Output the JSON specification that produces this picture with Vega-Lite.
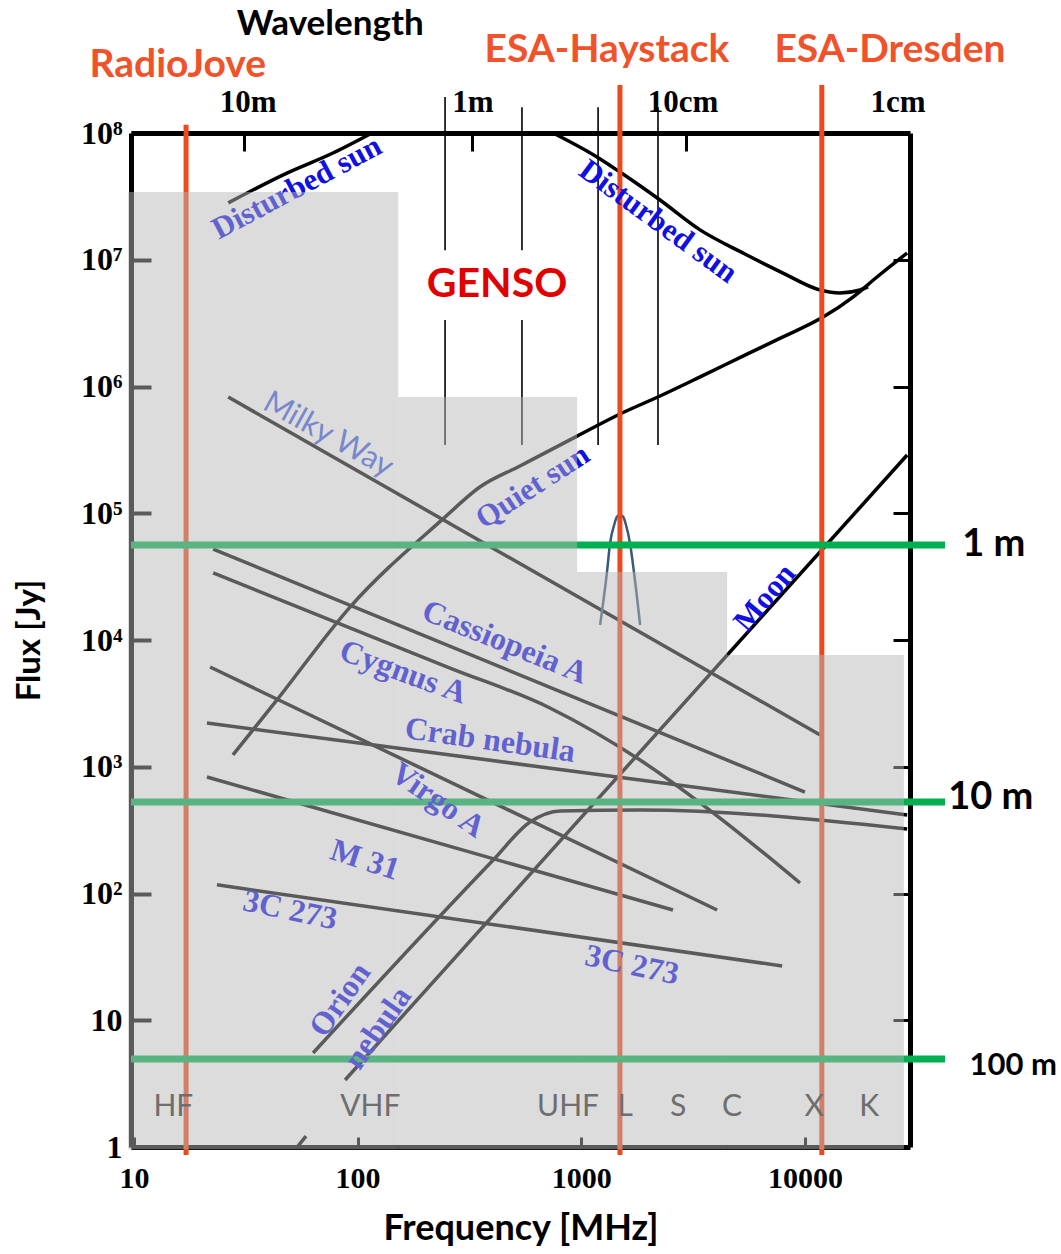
{
  "$schema": "https://vega.github.io/schema/vega-lite/v6.json",
  "width": 779,
  "height": 1014,
  "autosize": {"type": "none"},
  "padding": {"left": 131, "top": 133, "right": 151, "bottom": 107},
  "background": "white",
  "config": {"view": {"stroke": null}, "axis": {"grid": false, "labelFlush": false, "labelOverlap": false}},
  "datasets": {
    "curves": [
      {"series": "DS1", "f": 26.4, "s": 2.81e7}, {"series": "DS1", "f": 48.3, "s": 4.83e7}, {"series": "DS1", "f": 77.6, "s": 6.95e7}, {"series": "DS1", "f": 116, "s": 1e8},
      {"series": "DS2", "f": 748, "s": 1e8}, {"series": "DS2", "f": 1175, "s": 6.47e7}, {"series": "DS2", "f": 1489, "s": 4.92e7}, {"series": "DS2", "f": 2249, "s": 2.96e7}, {"series": "DS2", "f": 3396, "s": 1.72e7}, {"series": "DS2", "f": 5285, "s": 1.13e7}, {"series": "DS2", "f": 7980, "s": 7.85e6}, {"series": "DS2", "f": 11690, "s": 5.77e6}, {"series": "DS2", "f": 14350, "s": 5.47e6}, {"series": "DS2", "f": 17630, "s": 5.77e6}, {"series": "DS2", "f": 19150, "s": 6.1e6},
      {"series": "QS", "f": 27.7, "s": 1240}, {"series": "QS", "f": 43.6, "s": 3370}, {"series": "QS", "f": 92.5, "s": 18200}, {"series": "QS", "f": 241, "s": 90200}, {"series": "QS", "f": 352, "s": 161000}, {"series": "QS", "f": 532, "s": 236000}, {"series": "QS", "f": 958, "s": 406000}, {"series": "QS", "f": 1490, "s": 607000}, {"series": "QS", "f": 2250, "s": 841000}, {"series": "QS", "f": 3400, "s": 1190000}, {"series": "QS", "f": 5510, "s": 1800000}, {"series": "QS", "f": 7980, "s": 2460000}, {"series": "QS", "f": 12050, "s": 3530000}, {"series": "QS", "f": 16400, "s": 5080000}, {"series": "QS", "f": 21000, "s": 7310000}, {"series": "QS", "f": 28650, "s": 11300000},
      {"series": "MW", "f": 26.4, "s": 826000}, {"series": "MW", "f": 11700, "s": 1780},
      {"series": "Moon", "f": 87.9, "s": 3.38}, {"series": "Moon", "f": 28650, "s": 288000},
      {"series": "MoonStub", "f": 54.2, "s": 1.02}, {"series": "MoonStub", "f": 58.8, "s": 1.22},
      {"series": "CasA", "f": 22.6, "s": 52200}, {"series": "CasA", "f": 10000, "s": 632},
      {"series": "CygA", "f": 22.6, "s": 33800}, {"series": "CygA", "f": 259, "s": 6010}, {"series": "CygA", "f": 724, "s": 2910}, {"series": "CygA", "f": 1832, "s": 1130}, {"series": "CygA", "f": 4170, "s": 394}, {"series": "CygA", "f": 9510, "s": 121},
      {"series": "VirA", "f": 21.9, "s": 6120}, {"series": "VirA", "f": 4050, "s": 74.1},
      {"series": "Crab", "f": 21.2, "s": 2210}, {"series": "Crab", "f": 28650, "s": 416},
      {"series": "M31", "f": 21.2, "s": 830}, {"series": "M31", "f": 2570, "s": 74.1},
      {"series": "3C273", "f": 23.5, "s": 117}, {"series": "3C273", "f": 7910, "s": 26.8},
      {"series": "Orion", "f": 63.2, "s": 5.52}, {"series": "Orion", "f": 404, "s": 184}, {"series": "Orion", "f": 590, "s": 366}, {"series": "Orion", "f": 804, "s": 448}, {"series": "Orion", "f": 1832, "s": 455}, {"series": "Orion", "f": 28650, "s": 323}
    ],
    "genso": [
      {"f": 246, "s": 1.19e7, "s2": 1.92e8}, {"f": 246, "s": 345000, "s2": 3.35e6},
      {"f": 543, "s": 1.19e7, "s2": 1.6e8}, {"f": 543, "s": 345000, "s2": 3.35e6},
      {"f": 1189, "s": 345000, "s2": 1.6e8}, {"f": 2203, "s": 345000, "s2": 1.6e8}
    ],
    "bump": [
      {"f": 1214, "s": 13130}, {"f": 1303, "s": 34400}, {"f": 1345, "s": 58200}, {"f": 1403, "s": 80800}, {"f": 1445, "s": 94000}, {"f": 1489, "s": 97000}, {"f": 1538, "s": 94000}, {"f": 1585, "s": 80800}, {"f": 1651, "s": 58200}, {"f": 1720, "s": 34400}, {"f": 1833, "s": 13130}
    ],
    "red": [
      {"f": 17.1, "s": 0.865, "s2": 1.16e8}, {"f": 1489, "s": 0.865, "s2": 2.39e8}, {"f": 11900, "s": 0.865, "s2": 2.39e8}
    ],
    "green": [
      {"f": 9.7, "f2": 42300, "s": 56100}, {"f": 9.7, "f2": 42300, "s": 527}, {"f": 9.7, "f2": 42300, "s": 4.95}
    ],
    "grey": [
      {"f": 9.4, "f2": 152, "s": 3.42e7, "s2": 0.96}, {"f": 152, "f2": 958, "s": 826000, "s2": 0.96}, {"f": 958, "f2": 4490, "s": 34400, "s2": 0.96}, {"f": 4490, "f2": 27700, "s": 7620, "s2": 0.96}
    ],
    "src": [
      {"label": "Disturbed sun", "f": 53.6, "s": 3.68e7}, {"label": "Disturbed sun", "f": 2203, "s": 1.99e7},
      {"label": "Milky Way", "f": 73.8, "s": 414000}, {"label": "Quiet sun", "f": 608, "s": 161000},
      {"label": "Moon", "f": 6640, "s": 21400}, {"label": "Cassiopeia A", "f": 456, "s": 9640},
      {"label": "Cygnus A", "f": 160, "s": 5600}, {"label": "Crab nebula", "f": 391, "s": 1625},
      {"label": "Virgo A", "f": 229, "s": 547}, {"label": "M 31", "f": 108, "s": 184},
      {"label": "3C 273", "f": 49.9, "s": 74.1}, {"label": "3C 273", "f": 1687, "s": 27.3},
      {"label": "Orion", "f": 83.4, "s": 14.5}, {"label": "nebula", "f": 123, "s": 8.7}
    ],
    "bands": [
      {"label": "HF", "f": 15.0, "s": 2.07}, {"label": "VHF", "f": 114, "s": 2.07}, {"label": "UHF", "f": 873, "s": 2.07}, {"label": "L", "f": 1570, "s": 2.07}, {"label": "S", "f": 2710, "s": 2.07}, {"label": "C", "f": 4720, "s": 2.07}, {"label": "X", "f": 11000, "s": 2.07}, {"label": "K", "f": 19400, "s": 2.07}
    ],
    "tops": [
      {"label": "RadioJove", "f": 15.7, "s": 3.44e8}, {"label": "ESA-Haystack", "f": 1303, "s": 4.52e8}, {"label": "ESA-Dresden", "f": 24000, "s": 4.52e8}
    ],
    "wl": [
      {"label": "10m", "f": 32.4, "s": 1.72e8}, {"label": "1m", "f": 328, "s": 1.72e8}, {"label": "10cm", "f": 2850, "s": 1.72e8}, {"label": "1cm", "f": 26100, "s": 1.72e8}
    ],
    "misc": [
      {"label": "Wavelength", "f": 75.4, "s": 7.24e8}, {"label": "GENSO", "f": 420, "s": 6.32e6}
    ],
    "glab": [
      {"label": "1 m", "f": 50500, "s": 56100}, {"label": "10 m", "f": 43700, "s": 566}
    ],
    "glab2": [
      {"label": "100 m", "f": 54500, "s": 4.35}
    ]
  },
  "encoding": {
    "x": {"field": "f", "type": "quantitative", "scale": {"type": "log", "domain": [9.7, 29500], "nice": false}, "axis": null},
    "y": {"field": "s", "type": "quantitative", "scale": {"type": "log", "domain": [1, 100000000], "nice": false}, "axis": null}
  },
  "resolve": {"axis": {"x": "independent", "y": "independent"}},
  "layer": [
    {
      "data": {"name": "curves"},
      "mark": {"type": "line", "color": "black", "strokeWidth": 3.5, "interpolate": "monotone"},
      "encoding": {
        "x": {"field": "f", "type": "quantitative", "scale": {"type": "log", "domain": [9.7, 29500], "nice": false},
          "axis": {"orient": "bottom", "values": [10, 100, 1000, 10000], "labelExpr": "format(datum.value, 'd')", "tickSize": -10, "tickWidth": 3, "tickColor": "black", "domainColor": "black", "domainWidth": 5, "labelFont": "Liberation Serif", "labelFontWeight": "bold", "labelFontSize": 30, "labelColor": "black", "labelPadding": 26, "title": "Frequency [MHz]", "titleFont": "Lato", "titleFontSize": 36, "titleFontWeight": "bold", "titleColor": "black", "titlePadding": 18}},
        "y": {"field": "s", "type": "quantitative", "scale": {"type": "log", "domain": [1, 100000000], "nice": false},
          "axis": {"orient": "left", "values": [1, 10, 100, 1000, 10000, 100000, 1000000, 10000000, 100000000], "labelExpr": "datum.value < 100 ? format(datum.value, 'd') : '10' + substring('⁰¹²³⁴⁵⁶⁷⁸', round(log(datum.value)/LN10), round(log(datum.value)/LN10)+1)", "tickSize": -20, "tickWidth": 4, "tickColor": "black", "domainColor": "black", "domainWidth": 5, "labelFont": "Liberation Serif", "labelFontWeight": "bold", "labelFontSize": 32, "labelColor": "black", "labelPadding": 29, "title": "Flux [Jy]", "titleFont": "Lato", "titleFontSize": 33, "titleFontWeight": "bold", "titleColor": "black", "titlePadding": 34}},
        "detail": {"field": "series", "type": "nominal"}
      }
    },
    {
      "data": {"name": "genso"},
      "mark": {"type": "rule", "color": "black", "strokeWidth": 1.6},
      "encoding": {
        "x": {"field": "f", "type": "quantitative", "scale": {"type": "log", "domain": [9.7, 29500], "nice": false},
          "axis": {"orient": "top", "values": [31, 325, 2950], "tickSize": -18, "tickWidth": 3, "tickColor": "black", "domainColor": "black", "domainWidth": 5, "labels": false, "title": null}},
        "y": {"field": "s", "type": "quantitative", "scale": {"type": "log", "domain": [1, 100000000], "nice": false},
          "axis": {"orient": "right", "values": [10, 100, 1000, 10000, 100000, 1000000, 10000000], "tickSize": -17, "tickWidth": 3, "tickColor": "black", "domainColor": "black", "domainWidth": 5, "labels": false, "title": null}},
        "y2": {"field": "s2"}
      }
    },
    {
      "data": {"name": "bump"},
      "mark": {"type": "line", "color": "#3a5878", "strokeWidth": 2.5, "interpolate": "monotone"}
    },
    {
      "data": {"name": "red"},
      "mark": {"type": "rule", "color": "#ec4a1c", "strokeWidth": 5},
      "encoding": {"y2": {"field": "s2"}}
    },
    {
      "data": {"name": "green"},
      "mark": {"type": "rule", "color": "#00b050", "strokeWidth": 7},
      "encoding": {"x2": {"field": "f2"}}
    },
    {
      "data": {"name": "src"},
      "transform": [{"filter": "datum.label == 'Disturbed sun' && datum.f < 100"}],
      "mark": {"type": "text", "angle": -28, "font": "Liberation Serif", "fontWeight": "bold", "fontSize": 31, "color": "#0f0fe6"},
      "encoding": {"text": {"field": "label"}}
    },
    {
      "data": {"name": "src"},
      "transform": [{"filter": "datum.label == 'Disturbed sun' && datum.f > 100"}],
      "mark": {"type": "text", "angle": 36, "font": "Liberation Serif", "fontWeight": "bold", "fontSize": 31, "color": "#0f0fe6"},
      "encoding": {"text": {"field": "label"}}
    },
    {
      "data": {"name": "src"},
      "transform": [{"filter": "datum.label == 'Milky Way'"}],
      "mark": {"type": "text", "angle": 29, "font": "Lato", "fontSize": 31, "color": "#3a5ae0"},
      "encoding": {"text": {"field": "label"}}
    },
    {
      "data": {"name": "src"},
      "transform": [{"filter": "datum.label == 'Quiet sun'"}],
      "mark": {"type": "text", "angle": -33, "font": "Liberation Serif", "fontWeight": "bold", "fontSize": 31, "color": "#0f0fe6"},
      "encoding": {"text": {"field": "label"}}
    },
    {
      "data": {"name": "src"},
      "transform": [{"filter": "datum.label == 'Moon'"}],
      "mark": {"type": "text", "angle": -50, "font": "Liberation Serif", "fontWeight": "bold", "fontSize": 31, "color": "#0f0fe6"},
      "encoding": {"text": {"field": "label"}}
    },
    {
      "data": {"name": "src"},
      "transform": [{"filter": "datum.label == 'Cassiopeia A'"}],
      "mark": {"type": "text", "angle": 22, "font": "Liberation Serif", "fontWeight": "bold", "fontSize": 32, "color": "#0f0fe6"},
      "encoding": {"text": {"field": "label"}}
    },
    {
      "data": {"name": "src"},
      "transform": [{"filter": "datum.label == 'Cygnus A'"}],
      "mark": {"type": "text", "angle": 20, "font": "Liberation Serif", "fontWeight": "bold", "fontSize": 32, "color": "#0f0fe6"},
      "encoding": {"text": {"field": "label"}}
    },
    {
      "data": {"name": "src"},
      "transform": [{"filter": "datum.label == 'Crab nebula'"}],
      "mark": {"type": "text", "angle": 8, "font": "Liberation Serif", "fontWeight": "bold", "fontSize": 32, "color": "#0f0fe6"},
      "encoding": {"text": {"field": "label"}}
    },
    {
      "data": {"name": "src"},
      "transform": [{"filter": "datum.label == 'Virgo A'"}],
      "mark": {"type": "text", "angle": 35, "font": "Liberation Serif", "fontWeight": "bold", "fontSize": 32, "color": "#0f0fe6"},
      "encoding": {"text": {"field": "label"}}
    },
    {
      "data": {"name": "src"},
      "transform": [{"filter": "datum.label == 'M 31'"}],
      "mark": {"type": "text", "angle": 18, "font": "Liberation Serif", "fontWeight": "bold", "fontSize": 32, "color": "#0f0fe6"},
      "encoding": {"text": {"field": "label"}}
    },
    {
      "data": {"name": "src"},
      "transform": [{"filter": "datum.label == '3C 273'"}],
      "mark": {"type": "text", "angle": 12, "font": "Liberation Serif", "fontWeight": "bold", "fontSize": 32, "color": "#0f0fe6"},
      "encoding": {"text": {"field": "label"}}
    },
    {
      "data": {"name": "src"},
      "transform": [{"filter": "datum.label == 'Orion' || datum.label == 'nebula'"}],
      "mark": {"type": "text", "angle": -55, "font": "Liberation Serif", "fontWeight": "bold", "fontSize": 32, "color": "#0f0fe6"},
      "encoding": {"text": {"field": "label"}}
    },
    {
      "data": {"name": "grey"},
      "mark": {"type": "rect", "color": "#b7b7b7", "opacity": 0.49},
      "encoding": {"x2": {"field": "f2"}, "y2": {"field": "s2"}}
    },
    {
      "data": {"name": "bands"},
      "mark": {"type": "text", "font": "Lato", "fontSize": 30, "color": "#6e6e6e"},
      "encoding": {"text": {"field": "label"}}
    },
    {
      "data": {"name": "tops"},
      "mark": {"type": "text", "font": "Lato", "fontWeight": "bold", "fontSize": 39, "color": "#f0522a"},
      "encoding": {"text": {"field": "label"}}
    },
    {
      "data": {"name": "misc"},
      "transform": [{"filter": "datum.label == 'Wavelength'"}],
      "mark": {"type": "text", "font": "Lato", "fontWeight": "bold", "fontSize": 35, "color": "black"},
      "encoding": {"text": {"field": "label"}}
    },
    {
      "data": {"name": "misc"},
      "transform": [{"filter": "datum.label == 'GENSO'"}],
      "mark": {"type": "text", "font": "Lato", "fontWeight": "bold", "fontSize": 41, "color": "#e00000"},
      "encoding": {"text": {"field": "label"}}
    },
    {
      "data": {"name": "wl"},
      "mark": {"type": "text", "font": "Liberation Serif", "fontWeight": "bold", "fontSize": 31, "color": "black"},
      "encoding": {"text": {"field": "label"}}
    },
    {
      "data": {"name": "glab"},
      "mark": {"type": "text", "align": "left", "font": "Lato", "fontWeight": "bold", "fontSize": 38, "color": "black"},
      "encoding": {"text": {"field": "label"}}
    },
    {
      "data": {"name": "glab2"},
      "mark": {"type": "text", "align": "left", "font": "Lato", "fontWeight": "bold", "fontSize": 31, "color": "black"},
      "encoding": {"text": {"field": "label"}}
    }
  ]
}
